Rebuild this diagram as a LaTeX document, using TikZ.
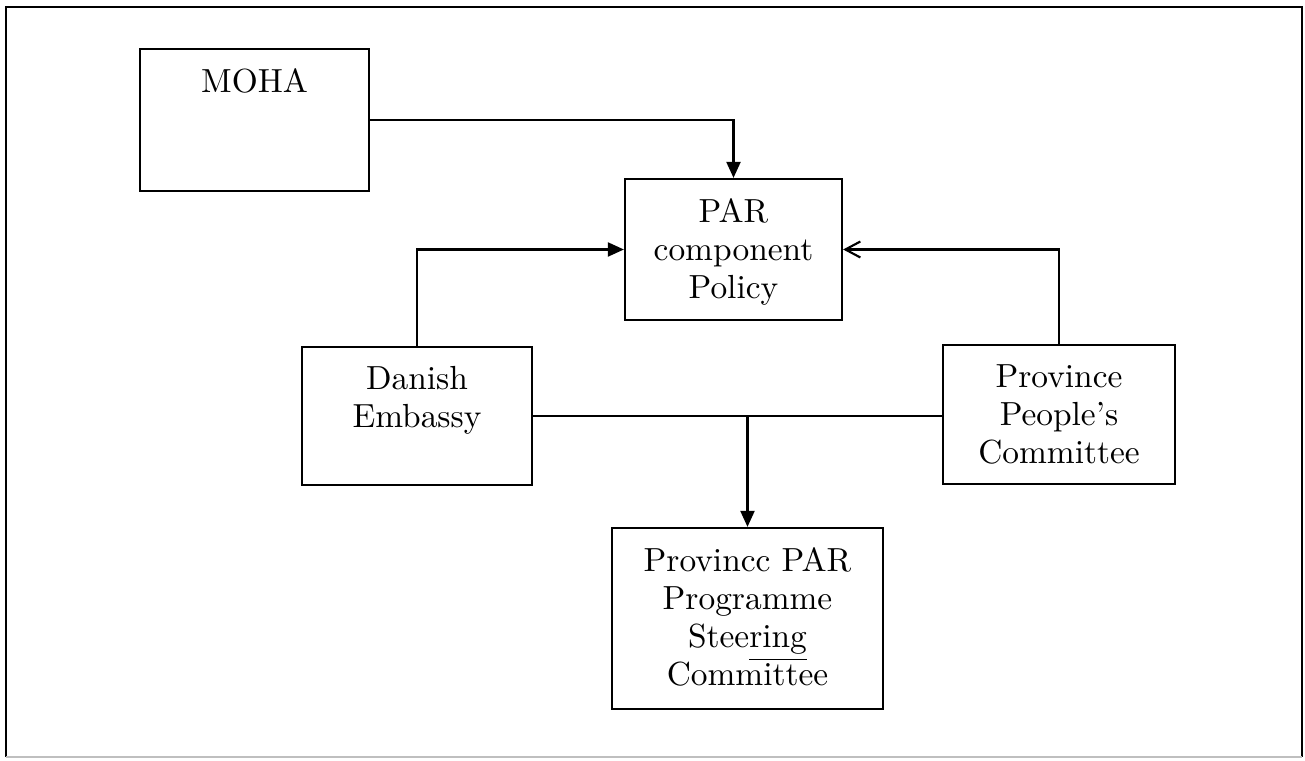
\documentclass[tikz,border=0pt]{standalone}
\usetikzlibrary{arrows.meta}
\usetikzlibrary{positioning}
\newcommand{\Moha}{MOHA}
\newcommand{\Policy}{PAR\\component\\Policy}
\newcommand{\Embassy}{Danish\\Embassy}
\newcommand{\ProvCommittee}{Province\\People's\\Committee}
\newcommand{\SteerCommittee}{Provincc PAR\\Programme\\Stee\smash{\underline{ring}}\\Committee}
\tikzstyle{unit} = [rectangle,draw=black,line width=0.6pt,inner sep=0pt]
\tikzstyle{unitname} = [anchor=north,align=center,inner sep=0pt,yshift=-0.2cm,font=\fontsize{9.5}{10.8}\selectfont]
\tikzstyle{link} = [draw=black,line width=0.6pt]

\begin{document}
\begin{tikzpicture}[x=0.01cm,y=-0.01cm,
  fill tip/.style={-{Triangle[length=0.16cm,width=0.14cm]}},
  open tip/.style={-{Straight Barb[length=0.15cm,width=0.16cm]}}]
\useasboundingbox (0,0) rectangle (1305,761);
% frame
\draw[line width=0.7pt] (6,757) -- (6,7) -- (1302,7) -- (1302,757);
\draw[line width=0.4pt, black!25] (6,757) -- (1302,757);

% Define nodes
\node[unit, minimum width=2.29cm, minimum height=1.42cm,
      label={[unitname]north:\Moha}]               (moha)  at (254.5,120) {};
\node[unit, minimum width=2.17cm, minimum height=1.41cm,
      label={[unitname]north:\Policy}]             (par)   at (733.5,249.5) {};
\node[unit, minimum width=2.30cm, minimum height=1.38cm,
      label={[unitname]north:\Embassy}]            (dk)    at (417,416) {};
\node[unit, minimum width=2.32cm, minimum height=1.39cm,
      label={[unitname]north:\ProvCommittee}]      (ppc)   at (1059,414.5) {};
\node[unit, minimum width=2.71cm, minimum height=1.81cm,
      label={[unitname]north:\SteerCommittee}]     (steer) at (747.5,618.5) {};

% Edges
\draw[link, fill tip] (moha.east) -| (par.north);
\draw[link, fill tip] (dk.north) |- (par.west);
\draw[link, open tip] (ppc.north) |- (par.east);
\draw[link] (dk.east) -- (dk.east -| ppc.west);
\draw[link, fill tip] (dk.east -| steer.north) -- (steer.north);
\end{tikzpicture}
\end{document}
